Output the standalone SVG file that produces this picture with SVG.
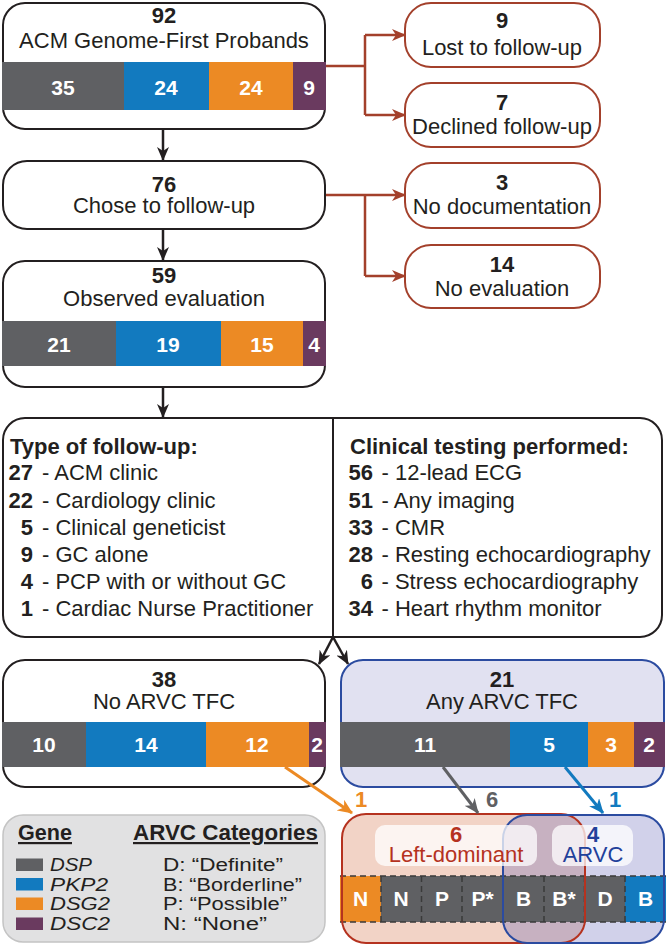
<svg xmlns="http://www.w3.org/2000/svg" width="666" height="945" viewBox="0 0 666 945">
<style>
text{font-family:"Liberation Sans",Arial,sans-serif;fill:#231f20;font-size:22px}
.b{font-weight:bold}
.c{text-anchor:middle}
.e{text-anchor:end}
.w{fill:#fff;font-weight:bold;text-anchor:middle;font-size:21px}
.lg{font-size:18px}
.box{fill:#fff;stroke:#231f20;stroke-width:2}
.rbox{fill:#fff;stroke:#a3402b;stroke-width:2}
.dsp{fill:#5f6063}.pkp{fill:#127abf}.dsg{fill:#ec8a24}.dsc{fill:#6a3a5f}
.blk{stroke:#231f20;stroke-width:2.5;fill:none}
.red{stroke:#a3402b;stroke-width:2.5;fill:none}
.dash{stroke:#3a3a3a;stroke-width:1.5;stroke-dasharray:6 4;fill:none}
</style>
<defs>
<marker id="ab" viewBox="0 0 14 12" refX="13" refY="6" markerWidth="14" markerHeight="12" markerUnits="userSpaceOnUse" orient="auto"><path d="M0,0 L14,6 L0,12 L4,6 z" fill="#231f20"/></marker>
<marker id="ar" viewBox="0 0 14 12" refX="13" refY="6" markerWidth="14" markerHeight="12" markerUnits="userSpaceOnUse" orient="auto"><path d="M0,0 L14,6 L0,12 L4,6 z" fill="#a3402b"/></marker>
<marker id="ao" viewBox="0 0 14 12" refX="13" refY="6" markerWidth="15" markerHeight="13" markerUnits="userSpaceOnUse" orient="auto"><path d="M0,0 L14,6 L0,12 L4,6 z" fill="#ec8a24"/></marker>
<marker id="ag" viewBox="0 0 14 12" refX="13" refY="6" markerWidth="15" markerHeight="13" markerUnits="userSpaceOnUse" orient="auto"><path d="M0,0 L14,6 L0,12 L4,6 z" fill="#5f6063"/></marker>
<marker id="au" viewBox="0 0 14 12" refX="13" refY="6" markerWidth="15" markerHeight="13" markerUnits="userSpaceOnUse" orient="auto"><path d="M0,0 L14,6 L0,12 L4,6 z" fill="#127abf"/></marker>
</defs>

<g id="connectors">
<line class="blk" x1="163" y1="130" x2="163" y2="160" marker-end="url(#ab)"/>
<line class="blk" x1="163" y1="229" x2="163" y2="260" marker-end="url(#ab)"/>
<line class="blk" x1="163" y1="388" x2="163" y2="417" marker-end="url(#ab)"/>
<line class="blk" x1="333" y1="637" x2="319" y2="664" marker-end="url(#ab)"/>
<line class="blk" x1="333" y1="637" x2="348" y2="664" marker-end="url(#ab)"/>
<path class="red" d="M326,66 H365 M365,35 V115"/>
<line class="red" x1="365" y1="35" x2="405" y2="35" marker-end="url(#ar)"/>
<line class="red" x1="365" y1="115" x2="405" y2="115" marker-end="url(#ar)"/>
<path class="red" d="M326,195 H365 M365,195 V276"/>
<line class="red" x1="365" y1="195" x2="405" y2="195" marker-end="url(#ar)"/>
<line class="red" x1="365" y1="276" x2="405" y2="276" marker-end="url(#ar)"/>
</g>

<g id="n92">
<rect class="box" x="3" y="3" width="322" height="126" rx="22"/>
<rect class="dsp" x="2" y="62" width="122" height="48"/>
<rect class="pkp" x="124" y="62" width="85" height="48"/>
<rect class="dsg" x="209" y="62" width="84" height="48"/>
<rect class="dsc" x="293" y="62" width="33" height="48"/>
<text class="b c" x="164" y="23">92</text>
<text class="c" x="164" y="48">ACM Genome-First Probands</text>
<text class="w" x="63" y="95">35</text>
<text class="w" x="166" y="95">24</text>
<text class="w" x="251" y="95">24</text>
<text class="w" x="309" y="95">9</text>
</g>

<g id="n9">
<rect class="rbox" x="405" y="3" width="195" height="64" rx="26"/>
<text class="b c" x="502" y="28">9</text>
<text class="c" x="502" y="55">Lost to follow-up</text>
</g>
<g id="n7">
<rect class="rbox" x="405" y="83" width="195" height="64" rx="26"/>
<text class="b c" x="502" y="110">7</text>
<text class="c" x="502" y="134">Declined follow-up</text>
</g>
<g id="n3">
<rect class="rbox" x="405" y="163" width="195" height="65" rx="26"/>
<text class="b c" x="502" y="190">3</text>
<text class="c" x="502" y="214">No documentation</text>
</g>
<g id="n14">
<rect class="rbox" x="405" y="245" width="195" height="63" rx="26"/>
<text class="b c" x="502" y="272">14</text>
<text class="c" x="502" y="296">No evaluation</text>
</g>

<g id="n76">
<rect class="box" x="3" y="161" width="322" height="68" rx="24"/>
<text class="b c" x="164" y="192">76</text>
<text class="c" x="164" y="213">Chose to follow-up</text>
</g>

<g id="n59">
<rect class="box" x="3" y="261" width="322" height="126" rx="22"/>
<rect class="dsp" x="2" y="321" width="114" height="45"/>
<rect class="pkp" x="116" y="321" width="105" height="45"/>
<rect class="dsg" x="221" y="321" width="82" height="45"/>
<rect class="dsc" x="303" y="321" width="23" height="45"/>
<text class="b c" x="164" y="283">59</text>
<text class="c" x="164" y="306">Observed evaluation</text>
<text class="w" x="59" y="352">21</text>
<text class="w" x="168" y="352">19</text>
<text class="w" x="262" y="352">15</text>
<text class="w" x="314" y="352">4</text>
</g>

<g id="followup">
<rect class="box" x="3" y="418" width="659" height="219" rx="22"/>
<line x1="333" y1="418" x2="333" y2="637" stroke="#231f20" stroke-width="2"/>
<text class="b" x="10" y="454">Type of follow-up:</text>
<text class="b e" x="33" y="480">27</text><text x="42" y="480">- ACM clinic</text>
<text class="b e" x="33" y="508">22</text><text x="42" y="508">- Cardiology clinic</text>
<text class="b e" x="33" y="535">5</text><text x="42" y="535">- Clinical geneticist</text>
<text class="b e" x="33" y="562">9</text><text x="42" y="562">- GC alone</text>
<text class="b e" x="33" y="589">4</text><text x="42" y="589">- PCP with or without GC</text>
<text class="b e" x="33" y="616">1</text><text x="42" y="616">- Cardiac Nurse Practitioner</text>
<text class="b" x="350" y="454">Clinical testing performed:</text>
<text class="b e" x="373" y="480">56</text><text x="381.5" y="480">- 12-lead ECG</text>
<text class="b e" x="373" y="508">51</text><text x="381.5" y="508">- Any imaging</text>
<text class="b e" x="373" y="535">33</text><text x="381.5" y="535">- CMR</text>
<text class="b e" x="373" y="562">28</text><text x="381.5" y="562">- Resting echocardiography</text>
<text class="b e" x="373" y="589">6</text><text x="381.5" y="589">- Stress echocardiography</text>
<text class="b e" x="373" y="616">34</text><text x="381.5" y="616">- Heart rhythm monitor</text>
</g>

<g id="n38">
<rect class="box" x="3" y="660" width="322" height="127" rx="22"/>
<rect class="dsp" x="2" y="722" width="84" height="45"/>
<rect class="pkp" x="86" y="722" width="120" height="45"/>
<rect class="dsg" x="206" y="722" width="103" height="45"/>
<rect class="dsc" x="309" y="722" width="17" height="45"/>
<text class="b c" x="164" y="687">38</text>
<text class="c" x="164" y="709">No ARVC TFC</text>
<text class="w" x="44" y="752">10</text>
<text class="w" x="146" y="752">14</text>
<text class="w" x="257" y="752">12</text>
<text class="w" x="317" y="752">2</text>
</g>

<g id="n21">
<rect x="341" y="660" width="323" height="127" rx="22" fill="#e1e1f1" stroke="#2b4ba0" stroke-width="2"/>
<rect class="dsp" x="340" y="722" width="170" height="45"/>
<rect class="pkp" x="510" y="722" width="78" height="45"/>
<rect class="dsg" x="588" y="722" width="46" height="45"/>
<rect class="dsc" x="634" y="722" width="31" height="45"/>
<text class="b c" x="502" y="687">21</text>
<text class="c" x="502" y="709">Any ARVC TFC</text>
<text class="w" x="425" y="752">11</text>
<text class="w" x="549" y="752">5</text>
<text class="w" x="611" y="752">3</text>
<text class="w" x="649" y="752">2</text>
</g>

<g id="legend">
<rect x="3" y="815" width="322" height="127" rx="20" fill="#e1e1e2" stroke="#c4c4c4" stroke-width="1.5"/>
<text class="b" x="18" y="840" font-size="20" textLength="54" lengthAdjust="spacingAndGlyphs" text-decoration="underline">Gene</text>
<text class="b" x="133" y="840" font-size="20" textLength="185" lengthAdjust="spacingAndGlyphs" text-decoration="underline">ARVC Categories</text>
<rect class="dsp" x="16" y="858.5" width="27" height="12.5"/>
<rect class="pkp" x="16" y="878" width="27" height="12.5"/>
<rect class="dsg" x="16" y="897.5" width="27" height="12.5"/>
<rect class="dsc" x="16" y="917.5" width="27" height="12.5"/>
<text class="lg" x="50" y="871" font-style="italic" textLength="42" lengthAdjust="spacingAndGlyphs">DSP</text>
<text class="lg" x="50" y="890.5" font-style="italic" textLength="58" lengthAdjust="spacingAndGlyphs">PKP2</text>
<text class="lg" x="50" y="910" font-style="italic" textLength="60" lengthAdjust="spacingAndGlyphs">DSG2</text>
<text class="lg" x="50" y="930" font-style="italic" textLength="60" lengthAdjust="spacingAndGlyphs">DSC2</text>
<text class="lg" x="163" y="871" textLength="120" lengthAdjust="spacingAndGlyphs">D: “Definite”</text>
<text class="lg" x="163" y="890.5" textLength="139" lengthAdjust="spacingAndGlyphs">B: “Borderline”</text>
<text class="lg" x="163" y="910" textLength="124" lengthAdjust="spacingAndGlyphs">P: “Possible”</text>
<text class="lg" x="163" y="930" textLength="104" lengthAdjust="spacingAndGlyphs">N: “None”</text>
</g>

<g id="venn">
<rect x="342" y="814" width="243" height="129" rx="24" fill="#f2d3c6"/>
<rect x="503" y="815" width="161" height="128" rx="24" fill="#5a5ab4" fill-opacity="0.28"/>
<rect class="dsg" x="340" y="876" width="41" height="46"/>
<rect class="dsp" x="381" y="876" width="244" height="46"/>
<rect class="pkp" x="625" y="876" width="41" height="46"/>
<path class="dash" d="M340,876 H666 M340,922 H666 M381,876 V922 M421.5,876 V922 M462,876 V922 M503,876 V922 M544,876 V922 M584.5,876 V922 M625,876 V922"/>
<rect x="342" y="814" width="243" height="129" rx="24" fill="none" stroke="#b5321f" stroke-width="2"/>
<rect x="503" y="815" width="161" height="128" rx="24" fill="none" stroke="#2b4ba0" stroke-width="2"/>
<rect x="375" y="825" width="162" height="41" rx="10" fill="#fff" fill-opacity="0.75"/>
<rect x="552" y="825" width="81" height="41" rx="10" fill="#fff" fill-opacity="0.75"/>
<text class="b c" x="456" y="842" style="fill:#b5321f">6</text>
<text class="c" x="456" y="862" style="fill:#b5321f">Left-dominant</text>
<text class="b c" x="593" y="842" style="fill:#22409a">4</text>
<text class="c" x="593" y="862" style="fill:#22409a">ARVC</text>
<text class="w" x="360.5" y="906">N</text>
<text class="w" x="401" y="906">N</text>
<text class="w" x="442" y="906">P</text>
<text class="w" x="482.5" y="906">P*</text>
<text class="w" x="523.5" y="906">B</text>
<text class="w" x="564" y="906">B*</text>
<text class="w" x="605" y="906">D</text>
<text class="w" x="645.5" y="906">B</text>
</g>

<g id="venn-arrows">
<line x1="285" y1="767" x2="352" y2="813" stroke="#ec8a24" stroke-width="3" marker-end="url(#ao)"/>
<line x1="443" y1="767" x2="478" y2="813" stroke="#5f6063" stroke-width="3" marker-end="url(#ag)"/>
<line x1="565" y1="767" x2="603" y2="813" stroke="#127abf" stroke-width="3" marker-end="url(#au)"/>
<text class="b c" x="361" y="807" style="fill:#ec8a24">1</text>
<text class="b c" x="492" y="807" style="fill:#5f6063">6</text>
<text class="b c" x="615" y="807" style="fill:#127abf">1</text>
</g>
</svg>
